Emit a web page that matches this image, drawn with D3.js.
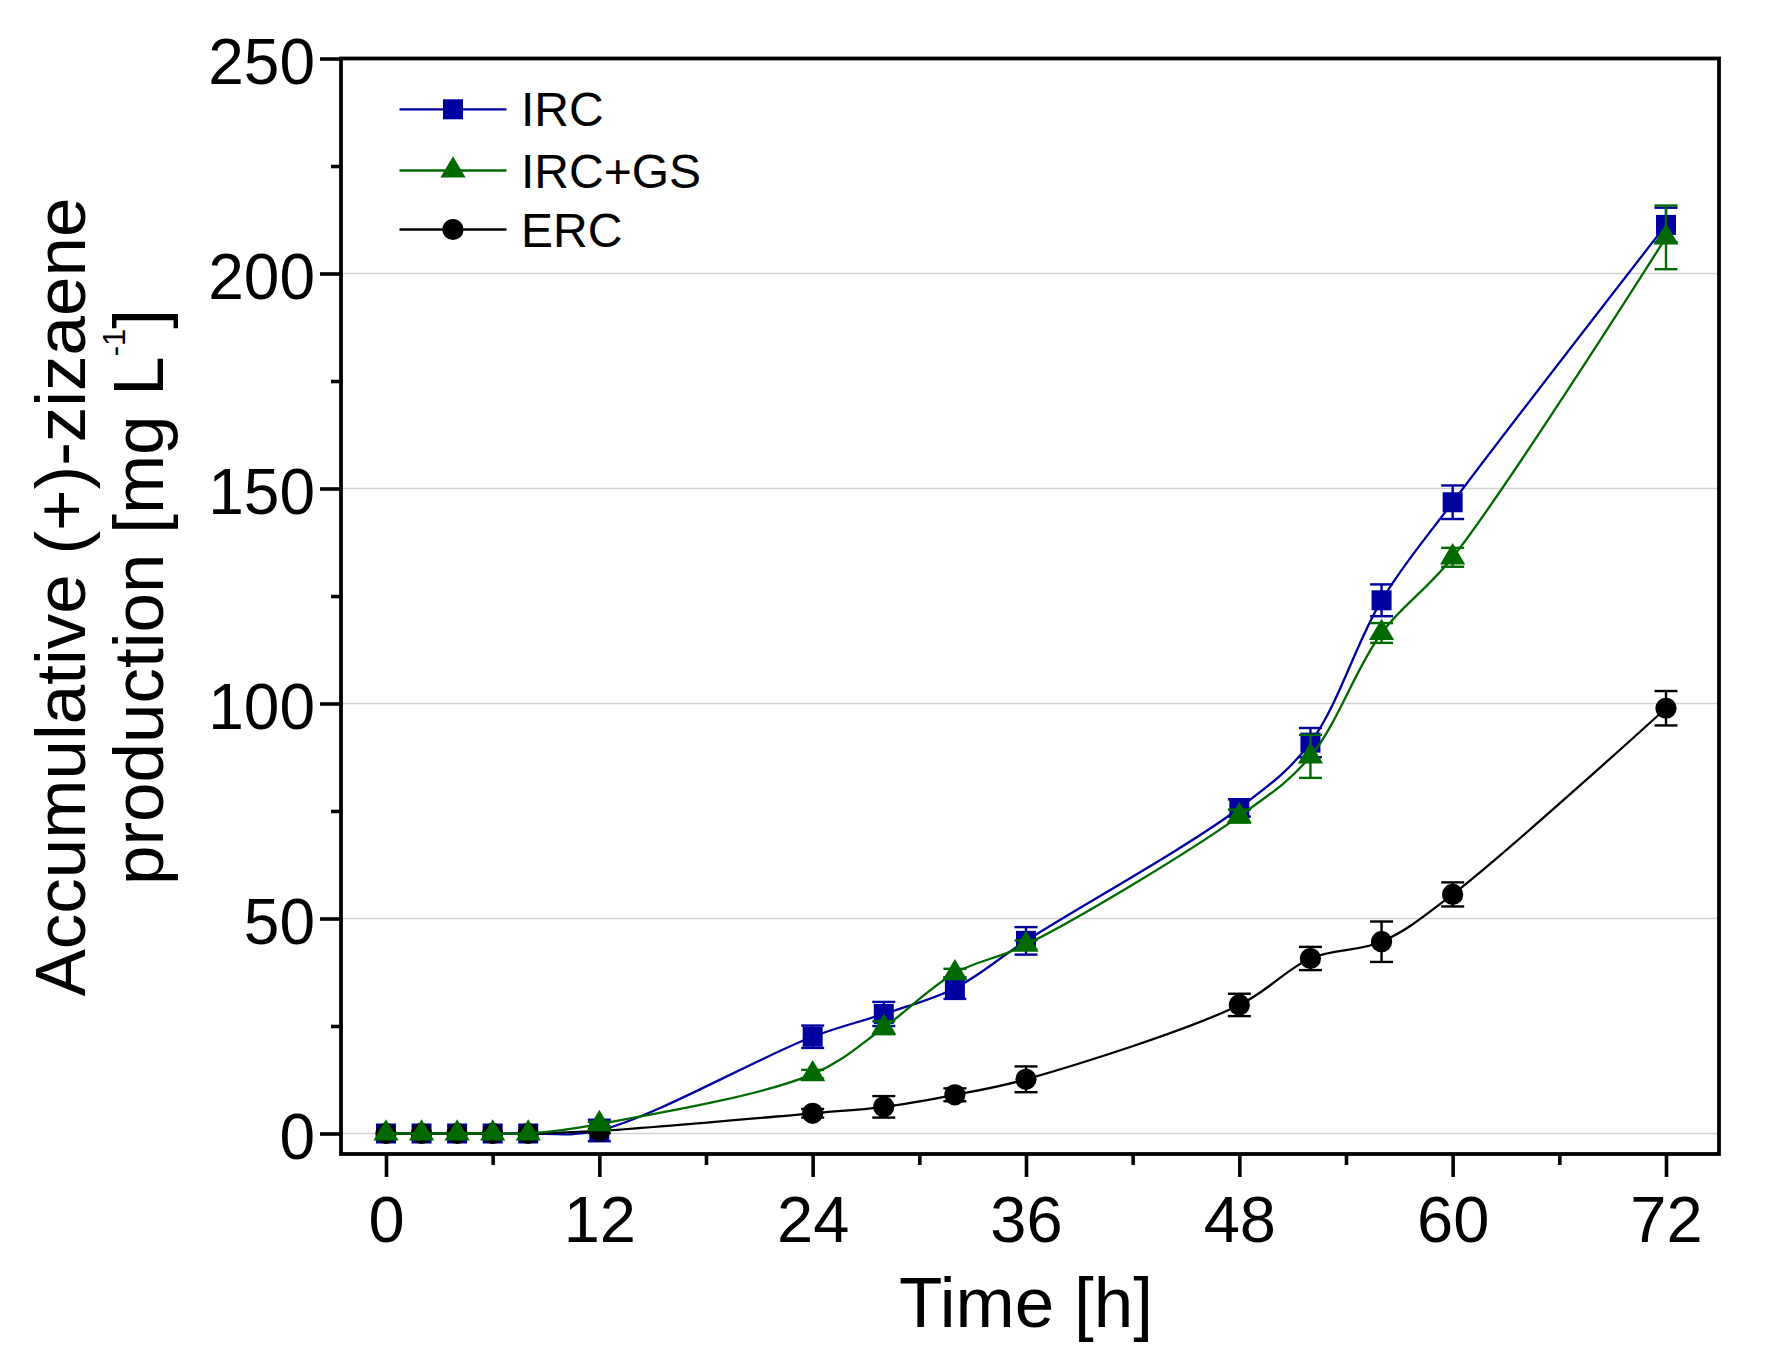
<!DOCTYPE html>
<html>
<head>
<meta charset="utf-8">
<script src="https://cdn.jsdelivr.net/npm/d3@7"></script>
<style>
  body { margin: 0; background: #fff; }
  text { font-family: "Liberation Sans", Arial, sans-serif; fill: #000; }
</style>
</head>
<body>
<script>
// data
const time = [0, 2, 4, 6, 8, 12, 24, 28, 32, 36, 48, 52, 56, 60, 72]
const irc = [0, 0, 0, 0, 0, 0.7, 22.5, 27.8, 33.8, 44.8, 75.7, 90.9, 124.0, 146.8, 211.3]
const ircErr = [0, 0, 0, 0, 0, 2.5, 2.6, 2.8, 2.5, 3.2, 2.0, 3.4, 3.7, 3.9, 4.0]
const ircGs = [0, 0, 0, 0, 0, 2.2, 13.8, 24.6, 37.3, 43.9, 73.8, 87.7, 116.4, 134.0, 208.4]
const ircGsErr = [0, 0, 0, 0, 0, 0.5, 1.0, 1.5, 1.0, 1.0, 1.5, 5.0, 2.3, 2.2, 7.4]
const erc = [0, 0, 0, 0, 0, 0.6, 4.7, 6.2, 9.0, 12.6, 29.9, 40.7, 44.6, 55.6, 98.9]
const ercErr = [0, 0, 0, 0, 0, 0.5, 1.0, 2.5, 1.5, 3.0, 2.6, 2.7, 4.7, 2.8, 4.0]

const xTicks = [0, 12, 24, 36, 48, 60, 72]
const xMinor = [6, 18, 30, 42, 54, 66]
const yTicks = [0, 50, 100, 150, 200, 250]
const yMinor = [25, 75, 125, 175, 225]
const gridValues = [0, 50, 100, 150, 200]

const seriesNames = ["IRC", "IRC+GS", "ERC"]
const seriesColors = ["#0000a0", "#006a00", "#000000"]
const seriesShapes = ["square", "triangle", "circle"]

//------------------------------------------------------------------------------

const W = 1765, H = 1371
const frame = { left: 341, right: 1719, top: 58.5, bottom: 1154 }

const svg = d3.select("body")
    .append("svg")
    .attr("width", W)
    .attr("height", H)

let x = d3.scaleLinear()
    .domain([0, 72])
    .range([386, 1666])

let y = d3.scaleLinear()
    .domain([0, 250])
    .range([1133.5, 58.5])

// grid
svg.append("g")
    .selectAll("line")
    .data(gridValues)
    .join("line")
    .attr("x1", frame.left)
    .attr("x2", frame.right)
    .attr("y1", d => y(d))
    .attr("y2", d => y(d))
    .attr("stroke", "#d2d2d2")
    .attr("stroke-width", 1.6)

//------------------------------------------------------------------------------
// axes

const yAxis = svg.append("g")
    .attr("transform", "translate(" + frame.left + ",0)")
    .call(d3.axisLeft(y).tickValues(yTicks).tickSize(21).tickPadding(5))
yAxis.selectAll("text").attr("font-size", 64).attr("dy", "0.39em")

const yAxisMinor = svg.append("g")
    .attr("transform", "translate(" + frame.left + ",0)")
    .call(d3.axisLeft(y).tickValues(yMinor).tickSize(10).tickFormat(""))

const xAxis = svg.append("g")
    .attr("transform", "translate(0," + frame.bottom + ")")
    .call(d3.axisBottom(x).tickValues(xTicks).tickSize(23).tickPadding(19))
xAxis.selectAll("text").attr("font-size", 65)

const xAxisMinor = svg.append("g")
    .attr("transform", "translate(0," + frame.bottom + ")")
    .call(d3.axisBottom(x).tickValues(xMinor).tickSize(11).tickFormat(""))

svg.selectAll(".domain").remove()
svg.selectAll(".tick line").attr("stroke", "#000").attr("stroke-width", 3.6)
svg.selectAll(".tick text").attr("fill", "#000").attr("font-family", "'Liberation Sans', Arial, sans-serif")

// frame box
svg.append("rect")
    .attr("x", frame.left)
    .attr("y", frame.top)
    .attr("width", frame.right - frame.left)
    .attr("height", frame.bottom - frame.top)
    .attr("fill", "none")
    .attr("stroke", "#000")
    .attr("stroke-width", 3.8)

//------------------------------------------------------------------------------
// titles

svg.append("text")
    .attr("x", 1026)
    .attr("y", 1327)
    .attr("text-anchor", "middle")
    .attr("font-size", 71)
    .text("Time [h]")

svg.append("text")
    .attr("transform", "translate(85,597) rotate(-90)")
    .attr("text-anchor", "middle")
    .attr("font-size", 71)
    .text("Accumulative (+)-zizaene")

const yTitle2 = svg.append("text")
    .attr("transform", "translate(163,597) rotate(-90)")
    .attr("text-anchor", "middle")
    .attr("font-size", 71)
yTitle2.append("tspan").text("production [mg L")
yTitle2.append("tspan").attr("font-size", 31).attr("dy", -38).text("-1")
yTitle2.append("tspan").attr("dy", 38).text("]")

//------------------------------------------------------------------------------
// series

const series = [
    { name: seriesNames[0], values: irc, err: ircErr, color: seriesColors[0], shape: seriesShapes[0] },
    { name: seriesNames[2], values: erc, err: ercErr, color: seriesColors[2], shape: seriesShapes[2] },
    { name: seriesNames[1], values: ircGs, err: ircGsErr, color: seriesColors[1], shape: seriesShapes[1] }
]

const line = d3.line()
    .x(d => x(d[0]))
    .y(d => y(d[1]))
    .curve(d3.curveCatmullRom.alpha(0.5))

function drawMarker(g, shape, color) {
    if (shape == "square") {
        g.append("rect").attr("x", -10).attr("y", -10).attr("width", 20).attr("height", 20).attr("fill", color)
    } else if (shape == "triangle") {
        // centroid on the data point
        g.append("path").attr("d", "M0,-14.2 L12.6,7.1 L-12.6,7.1 Z").attr("fill", color)
    } else {
        g.append("circle").attr("r", 10.6).attr("fill", color)
    }
}

series.forEach(s => {
    const pts = time.map((t, i) => [t, s.values[i], s.err[i]])
    const g = svg.append("g")

    g.append("path")
        .datum(pts)
        .attr("d", line)
        .attr("fill", "none")
        .attr("stroke", s.color)
        .attr("stroke-width", 2.3)

    const bars = g.append("g")
        .selectAll("g")
        .data(pts.filter(d => d[2] > 0))
        .join("g")
        .attr("stroke", s.color)
        .attr("stroke-width", 2.4)
    bars.append("line")
        .attr("x1", d => x(d[0])).attr("x2", d => x(d[0]))
        .attr("y1", d => y(d[1] - d[2])).attr("y2", d => y(d[1] + d[2]))
    bars.append("line")
        .attr("x1", d => x(d[0]) - 11.5).attr("x2", d => x(d[0]) + 11.5)
        .attr("y1", d => y(d[1] + d[2])).attr("y2", d => y(d[1] + d[2]))
    bars.append("line")
        .attr("x1", d => x(d[0]) - 11.5).attr("x2", d => x(d[0]) + 11.5)
        .attr("y1", d => y(d[1] - d[2])).attr("y2", d => y(d[1] - d[2]))

    g.append("g")
        .selectAll("g")
        .data(pts)
        .join("g")
        .attr("transform", d => "translate(" + x(d[0]) + "," + y(d[1]) + ")")
        .each(function () { drawMarker(d3.select(this), s.shape, s.color) })
})

//------------------------------------------------------------------------------
// legend

const legendY = [109.3, 170.5, 229.5]
const legend = svg.append("g")
seriesNames.forEach((name, i) => {
    const row = legend.append("g").attr("transform", "translate(0," + legendY[i] + ")")
    row.append("line")
        .attr("x1", 399.5).attr("x2", 506.5)
        .attr("stroke", seriesColors[i])
        .attr("stroke-width", 2.3)
    drawMarker(row.append("g").attr("transform", "translate(453,0)"), seriesShapes[i], seriesColors[i])
    row.append("text")
        .attr("x", 521)
        .attr("y", 17)
        .attr("font-size", 48)
        .text(name)
})
</script>
</body>
</html>
